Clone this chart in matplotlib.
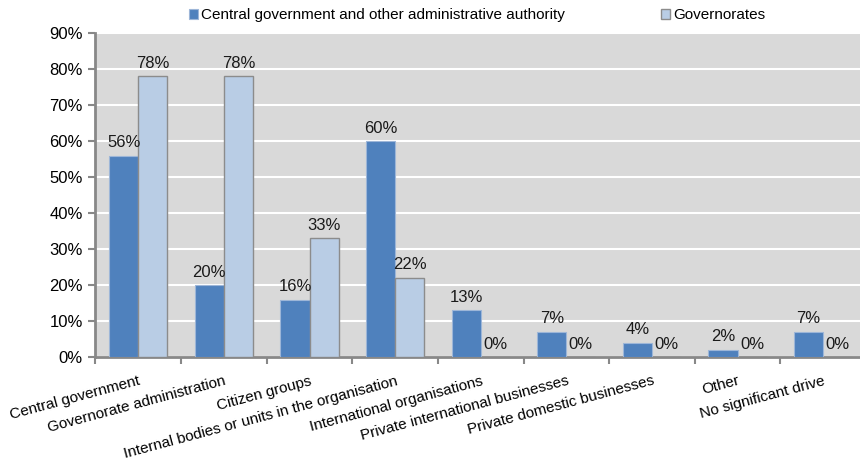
import numpy as np
import matplotlib.pyplot as plt
from matplotlib.ticker import FuncFormatter, FixedLocator

plt.rcParams['font.family'] = ['Liberation Sans', 'DejaVu Sans']

categories = ['Central government', 'Governorate administration', 'Citizen groups',
              'Internal bodies or units in the organisation', 'International organisations',
              'Private international businesses', 'Private domestic businesses',
              'Other', 'No significant drive']
central = [56, 20, 16, 60, 13, 7, 4, 2, 7]
governorates = [78, 78, 33, 22, 0, 0, 0, 0, 0]
series_names = ['Central government and other administrative authority', 'Governorates']

fig = plt.figure(figsize=(8.6, 4.73), dpi=100)
ax = fig.add_axes([0.111, 0.245, 0.896, 0.685])
ax.set_facecolor('#D9D9D9')

x = np.arange(len(categories))
w = 0.34
b1 = ax.bar(x - w/2, central, w, color='#4F81BD', edgecolor='#9DB6D8', linewidth=0.8,
            label=series_names[0], zorder=3)
b2 = ax.bar(x + w/2, governorates, w, color='#B9CDE5', edgecolor='#8C8C8C', linewidth=1.0,
            label=series_names[1], zorder=3)

fs = 11
fnum = 12
for bars, vals in ((b1, central), (b2, governorates)):
    for r, v in zip(bars, vals):
        ax.annotate('%d%%' % v, (r.get_x() + r.get_width()/2, v), xytext=(0, 4),
                    textcoords='offset points', ha='center', va='bottom',
                    fontsize=fnum, color='#1a1a1a', zorder=4)

ax.set_xlim(-0.5, len(categories) - 0.5)
ax.set_ylim(0, 90)
ax.set_yticks(np.arange(0, 91, 10))
ax.yaxis.set_major_formatter(FuncFormatter(lambda v, p: '%d%%' % v))
ax.grid(axis='y', color='white', linewidth=1.5, zorder=1)
ax.set_axisbelow(True)

ax.set_xticks(x)
ax.set_xticklabels(categories, rotation=15, ha='right', va='top',
                   rotation_mode='anchor', fontsize=fs)
ax.tick_params(axis='x', which='major', length=0, pad=12)
ax.xaxis.set_minor_locator(FixedLocator(np.arange(-0.5, len(categories), 1)))
ax.tick_params(axis='x', which='minor', length=5, width=1.5, color='#888888', direction='out')
ax.tick_params(axis='y', labelsize=fnum, length=5, width=1.5, color='#888888', direction='out', pad=4)

for s in ['top', 'right']:
    ax.spines[s].set_visible(False)
for s in ['left', 'bottom']:
    ax.spines[s].set_color('#888888')
    ax.spines[s].set_linewidth(2)

leg = fig.legend(loc='upper center', bbox_to_anchor=(0.555, 1.012), ncol=2, frameon=False,
                 fontsize=fs, handlelength=0.6, handleheight=0.6, handletextpad=0.2,
                 columnspacing=6.3)

fig.savefig('out.png', dpi=100)
